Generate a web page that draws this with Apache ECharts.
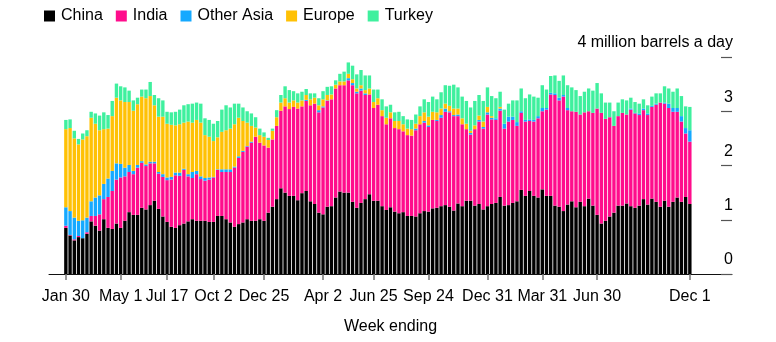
<!DOCTYPE html>
<html><head><meta charset="utf-8">
<script src="https://cdn.jsdelivr.net/npm/echarts@6/dist/echarts.min.js"></script>
<style>html,body{margin:0;padding:0;background:#fff}#c{width:776px;height:342px}</style>
</head><body><div id="c"></div>
<script>
// Weekly data, week ending Jan 30 2022 ... Dec 1 2024 (149 weeks), million barrels a day
const seriesNames = ['China','India','Other Asia','Europe','Turkey'];
const china = [
0.85,0.71,0.62,0.68,0.66,0.74,0.97,0.89,0.80,1.01,
0.85,0.83,0.93,0.85,0.98,1.14,1.09,1.09,1.22,1.19,
1.27,1.35,1.20,1.06,0.96,0.87,0.85,0.90,0.93,0.97,
1.01,0.98,0.98,0.98,0.96,0.96,1.07,1.07,1.01,0.95,
0.87,0.92,0.95,1.01,0.98,0.98,1.01,0.98,1.13,1.24,
1.38,1.58,1.50,1.44,1.44,1.36,1.49,1.53,1.34,1.29,
1.13,1.10,1.24,1.25,1.41,1.52,1.50,1.50,1.33,1.22,
1.31,1.38,1.47,1.35,1.35,1.25,1.18,1.23,1.15,1.12,
1.14,1.07,1.07,1.06,1.12,1.16,1.15,1.21,1.22,1.25,
1.27,1.24,1.17,1.30,1.25,1.35,1.35,1.26,1.29,1.19,
1.25,1.29,1.31,1.42,1.26,1.27,1.31,1.34,1.55,1.44,
1.53,1.44,1.41,1.56,1.44,1.44,1.26,1.24,1.16,1.28,
1.34,1.23,1.33,1.25,1.39,1.26,1.09,0.93,0.98,1.06,
1.13,1.26,1.26,1.30,1.25,1.22,1.26,1.38,1.28,1.39,
1.33,1.24,1.35,1.24,1.33,1.41,1.33,1.42,1.29];
const india = [
0.04,0.01,0.02,0.02,0.00,0.03,0.10,0.18,0.30,0.37,
0.57,0.70,0.81,0.93,0.82,0.74,0.75,0.87,0.83,0.80,
0.77,0.69,0.65,0.73,0.77,0.87,0.97,0.91,0.99,0.83,
0.76,0.86,0.77,0.74,0.78,0.82,0.85,0.81,0.87,0.93,
1.09,1.22,1.30,1.34,1.44,1.55,1.41,1.39,1.20,1.24,
1.35,1.43,1.59,1.60,1.64,1.69,1.60,1.66,1.77,1.85,
1.85,1.97,1.95,1.97,2.01,1.96,1.98,2.07,2.15,2.11,
2.07,1.92,1.84,1.71,1.77,1.66,1.58,1.64,1.54,1.55,
1.49,1.49,1.48,1.59,1.64,1.63,1.56,1.63,1.60,1.63,
1.72,1.74,1.74,1.61,1.51,1.32,1.22,1.41,1.52,1.49,
1.69,1.56,1.53,1.59,1.42,1.54,1.53,1.39,1.42,1.37,
1.29,1.37,1.46,1.44,1.59,1.87,2.04,1.96,2.11,1.74,
1.66,1.76,1.61,1.73,1.61,1.71,1.96,2.04,1.88,1.83,
1.60,1.65,1.71,1.64,1.78,1.74,1.67,1.64,1.65,1.69,
1.79,1.92,1.79,1.82,1.66,1.58,1.48,1.17,1.15];
const otherAsia = [
0.34,0.44,0.40,0.28,0.33,0.27,0.27,0.34,0.35,0.28,
0.34,0.37,0.30,0.25,0.16,0.13,0.06,0.05,0.03,0.03,
0.03,0.03,0.03,0.05,0.05,0.05,0.05,0.06,0.02,0.04,
0.11,0.06,0.05,0.05,0.04,0.01,0.01,0.05,0.05,0.05,
0.02,0.03,0.02,0.01,0.02,0,0,0,0,0,
0,0,0,0,0,0,0,0.02,0,0,
0.04,0.02,0.01,0,0,0,0,0.04,0.04,0.03,
0.04,0.03,0,0,0,0,0,0,0,0,
0,0,0,0.03,0,0.03,0.03,0,0.02,0.05,
0.06,0.02,0.02,0.03,0,0,0.03,0,0.03,0.03,
0.04,0.03,0.03,0.04,0.09,0.09,0.06,0.07,0.03,0.03,
0.03,0.03,0.04,0.06,0.03,0.03,0.03,0.05,0.03,0.04,
0,0,0,0,0,0,0,0,0,0,
0,0,0,0,0.02,0.01,0.03,0.03,0.03,0.02,
0.02,0,0.02,0.08,0.07,0.07,0.10,0.10,0.21];
const europe = [
1.44,1.53,1.46,1.41,1.49,1.50,1.54,1.36,1.20,1.01,
0.92,1.01,1.21,1.17,1.21,1.16,1.11,1.12,1.19,1.22,
1.21,1.04,1.02,1.06,0.99,0.96,0.87,0.89,0.85,0.97,
0.91,0.94,0.99,0.79,0.75,0.66,0.59,0.69,0.72,0.75,
0.78,0.71,0.55,0.43,0.29,0.17,0.14,0.16,0.14,0.16,
0.16,0.15,0.15,0.12,0.12,0.11,0.11,0.09,0.11,0.11,
0.09,0.13,0.10,0.09,0.07,0.07,0.07,0.08,0.07,0.06,
0.06,0.06,0.11,0.11,0.12,0.11,0.12,0.11,0.13,0.15,
0.13,0.12,0.12,0.09,0.15,0.16,0.16,0.15,0.14,0.12,
0.09,0.10,0.12,0.11,0.11,0.10,0.04,0.07,0.08,0.10,
0.10,0.03,0,0.03,0,0,0,0,0,0,
0,0,0,0,0,0,0,0,0,0,
0,0,0,0,0,0,0,0,0,0,
0,0,0,0,0,0,0,0,0,0,
0,0,0,0,0,0,0,0,0];
const turkey = [
0.17,0.16,0.14,0.10,0.11,0.11,0.11,0.19,0.27,0.31,
0.25,0.28,0.26,0.26,0.27,0.21,0.19,0.12,0.13,0.16,
0.26,0.19,0.34,0.30,0.22,0.23,0.25,0.27,0.32,0.32,
0.35,0.32,0.35,0.31,0.31,0.32,0.30,0.41,0.46,0.39,
0.38,0.26,0.25,0.21,0.23,0.19,0.12,0.08,0.04,0.04,
0.13,0.14,0.22,0.23,0.17,0.17,0.16,0.11,0.11,0.08,
0.13,0.15,0.15,0.15,0.08,0.14,0.18,0.21,0.25,0.26,
0.28,0.27,0.24,0.23,0.16,0.20,0.21,0.14,0.16,0.17,
0.15,0.17,0.17,0.17,0.18,0.24,0.27,0.28,0.24,0.30,
0.34,0.37,0.44,0.39,0.40,0.42,0.43,0.45,0.38,0.38,
0.36,0.37,0.37,0.28,0.26,0.24,0.30,0.40,0.42,0.40,
0.46,0.43,0.34,0.42,0.34,0.31,0.33,0.31,0.36,0.42,
0.44,0.40,0.34,0.38,0.42,0.41,0.47,0.36,0.30,0.27,
0.27,0.25,0.25,0.26,0.20,0.20,0.18,0.17,0.15,0.17,
0.19,0.17,0.30,0.28,0.30,0.36,0.37,0.40,0.43];
// tick labels on the week axis
const tickDates = ['2022-01-30','2022-05-01','2022-07-17','2022-10-02','2022-12-25','2023-04-02','2023-06-25','2023-09-24','2023-12-31','2024-03-31','2024-06-30','2024-12-01'];
const tickLabels = ['Jan 30','May 1','Jul 17','Oct 2','Dec 25','Apr 2','Jun 25','Sep 24','Dec 31','Mar 31','Jun 30','Dec 1'];
const yTickLabels = ['0','1','2','3','4 million barrels a day'];

// week-ending categories
const weeks = [];
for (let i = 0; i < china.length; i++) {
  const d = new Date(Date.UTC(2022, 0, 30) + i * 7 * 86400000);
  weeks.push(d.toISOString().slice(0, 10));
}
const padLeft = 4, padRight = 10;
const cats = [];
for (let i = 0; i < padLeft; i++) cats.push('padL' + i);
weeks.forEach(w => cats.push(w));
for (let i = 0; i < padRight; i++) cats.push('padR' + i);
const labelMap = {};
tickDates.forEach((d, i) => { labelMap[d] = tickLabels[i]; });
const isTick = (idx, val) => Object.prototype.hasOwnProperty.call(labelMap, val);
const pad = arr => Array(padLeft).fill('-').concat(arr, Array(padRight).fill('-'));

const colors = ['#000000', '#ff0d8c', '#15a9ff', '#ffc105', '#3ff09e'];
const values = [china, india, otherAsia, europe, turkey];
const FONT = 'Liberation Sans, Arial, Helvetica, sans-serif';

const chart = echarts.init(document.getElementById('c'), null, {renderer: 'canvas'});
chart.setOption({
  animation: false,
  backgroundColor: '#ffffff',
  textStyle: {fontFamily: FONT},
  legend: {
    left: 44, top: 8, padding: 0,
    itemWidth: 11, itemHeight: 11, itemGap: 13,
    icon: 'rect',
    textStyle: {fontSize: 16, color: '#000', fontFamily: FONT, padding: [0, 0, 0, 1]},
    data: seriesNames
  },
  grid: {left: 49, right: 44, top: 57, bottom: 68, containLabel: false, outerBoundsMode: 'none'},
  xAxis: {
    type: 'category',
    data: cats,
    boundaryGap: false,
    name: 'Week ending',
    nameLocation: 'middle',
    nameGap: 45,
    nameTextStyle: {fontSize: 16, color: '#000', fontFamily: FONT},
    axisLine: {show: true, lineStyle: {color: '#111', width: 1}},
    axisTick: {show: true, interval: isTick, length: 6, lineStyle: {color: '#777', width: 1.5}},
    axisLabel: {
      show: true, interval: isTick, margin: 15, fontSize: 16, color: '#000', fontFamily: FONT,
      formatter: v => labelMap[v] || ''
    },
    splitLine: {show: false}
  },
  yAxis: {
    type: 'value',
    position: 'right',
    min: 0, max: 4, interval: 1,
    axisLine: {show: false},
    axisTick: {show: true, inside: true, length: 11, lineStyle: {color: '#555', width: 1.2}},
    axisLabel: {
      inside: true, margin: -1, fontSize: 16, color: '#000', fontFamily: FONT,
      verticalAlign: 'bottom', lineHeight: 18, padding: [0, 0, 5, 0],
      formatter: v => yTickLabels[Math.round(v)]
    },
    splitLine: {show: false}
  },
  series: values.map((arr, k) => ({
    name: seriesNames[k],
    type: 'bar',
    stack: 'total',
    barWidth: 3.4,
    itemStyle: {color: colors[k]},
    emphasis: {disabled: true},
    data: pad(arr)
  }))
});
</script>
</body></html>
